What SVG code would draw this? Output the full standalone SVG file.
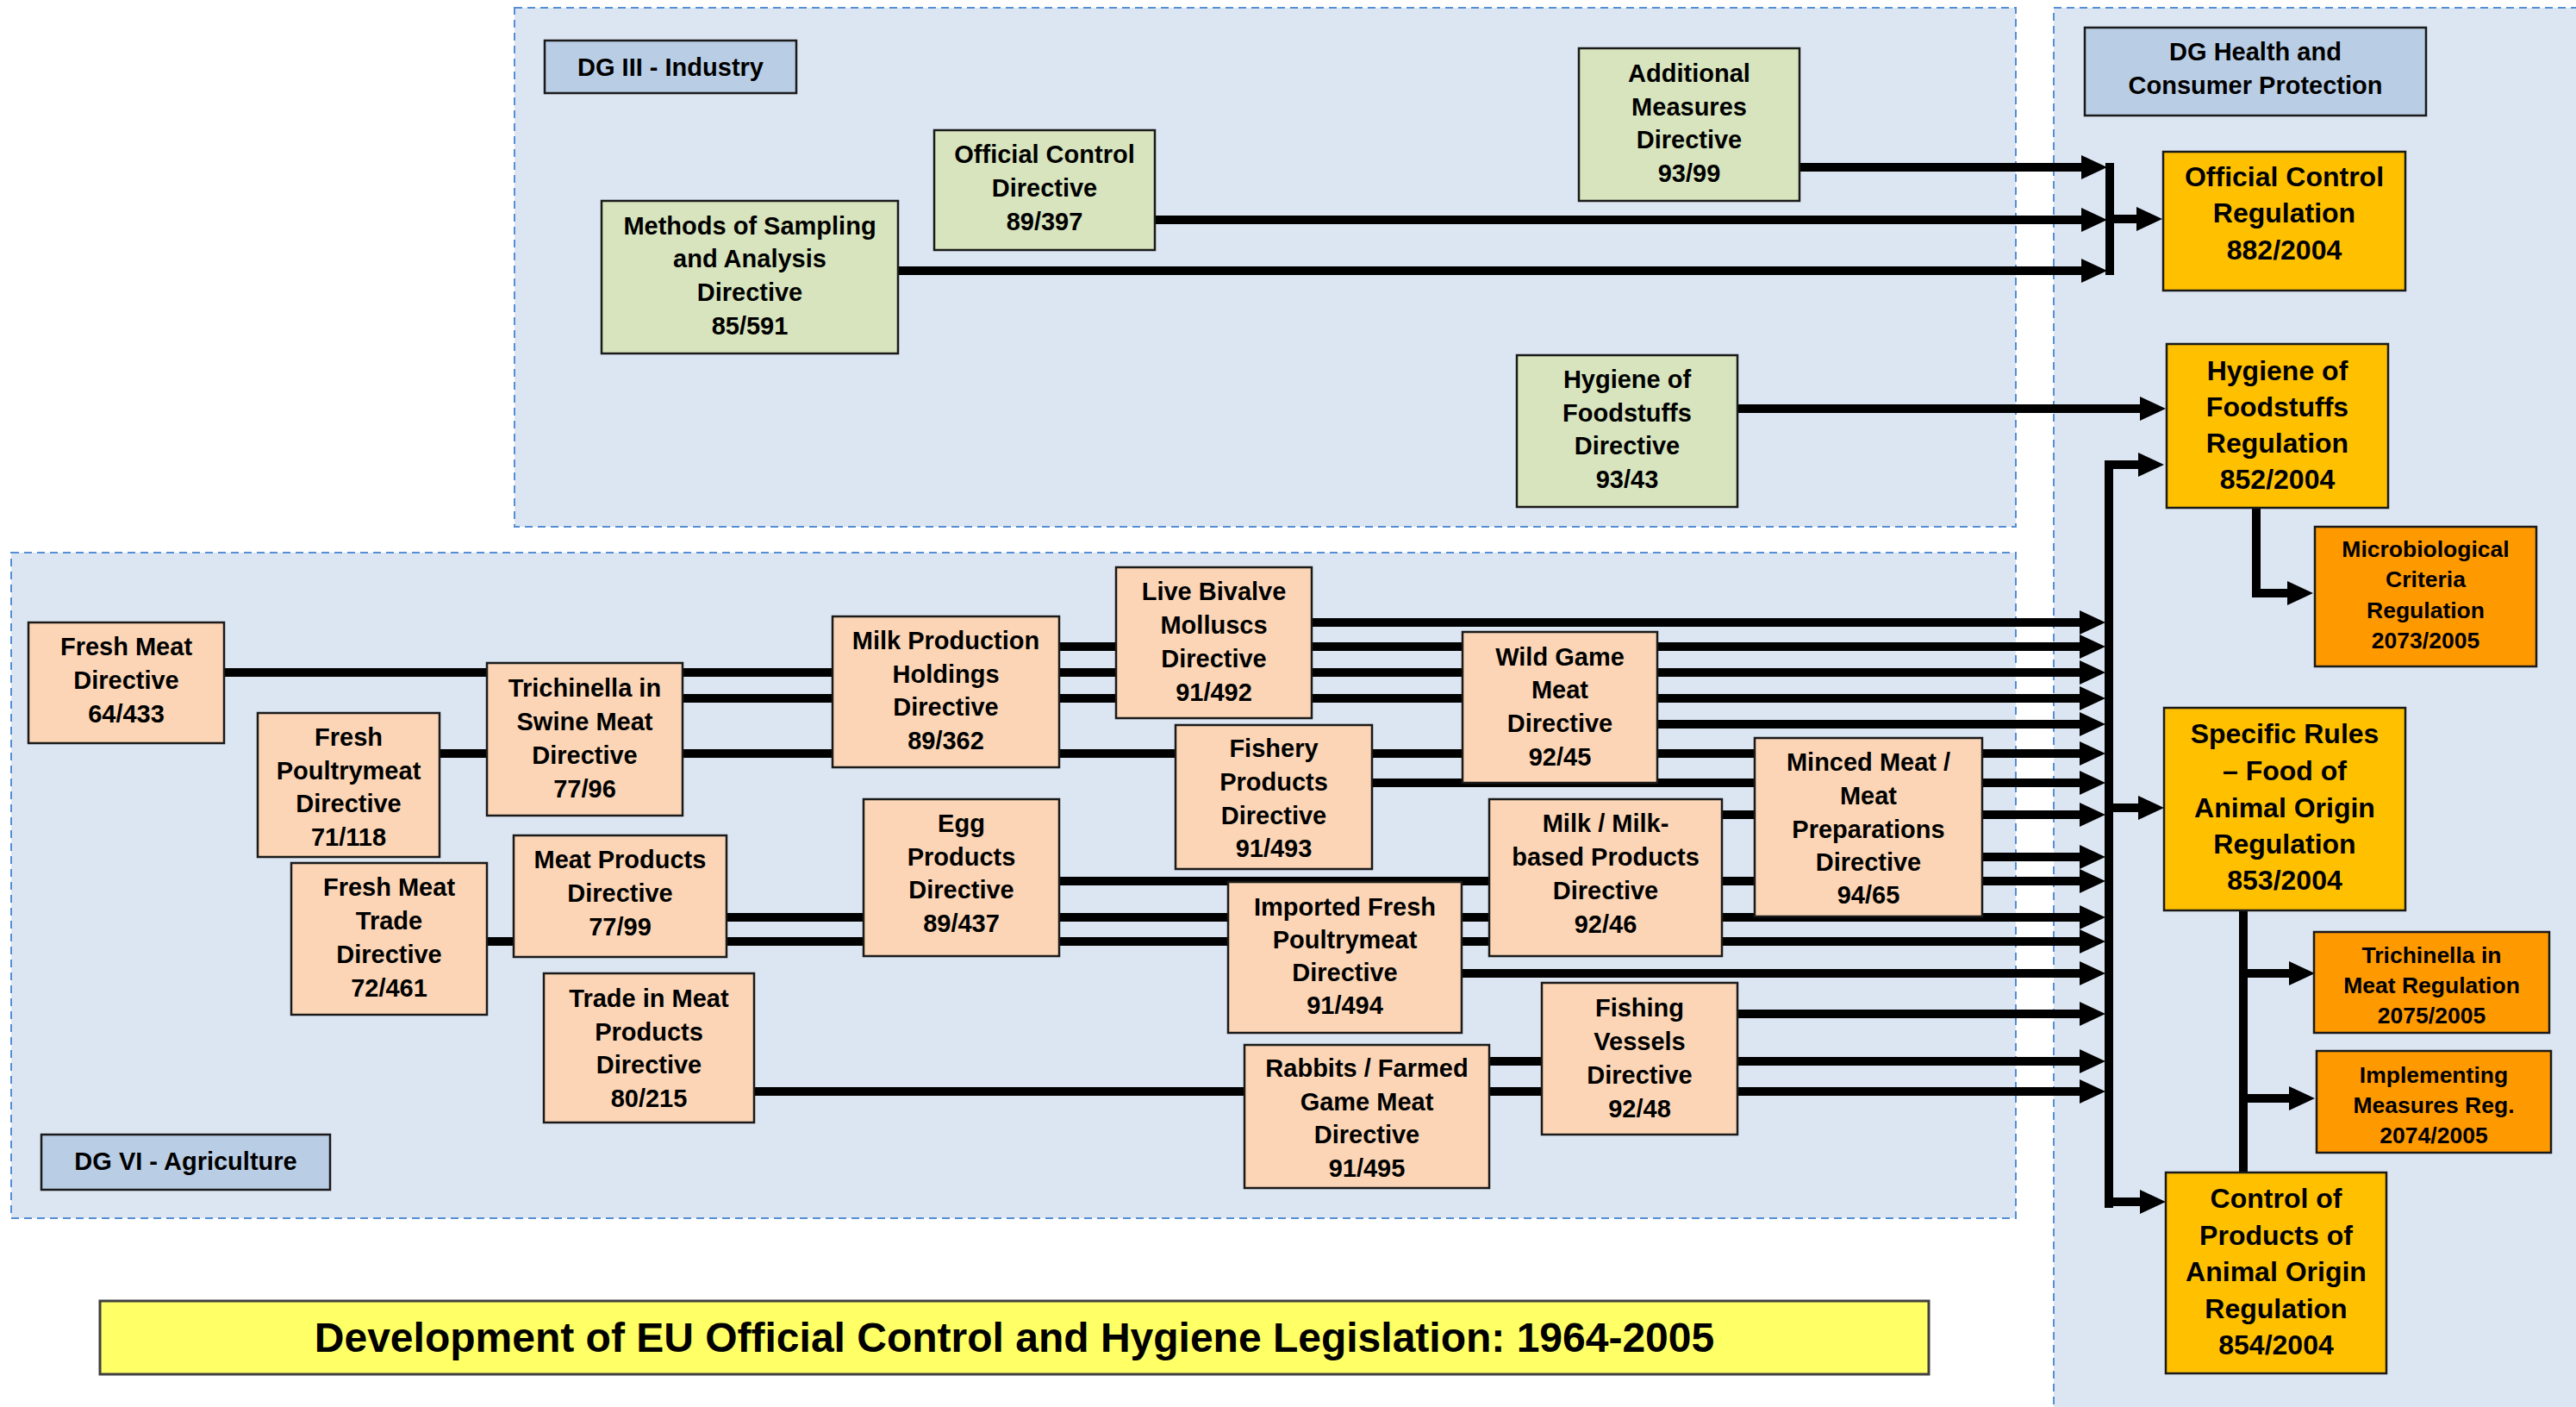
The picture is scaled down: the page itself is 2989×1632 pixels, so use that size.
<svg xmlns="http://www.w3.org/2000/svg" width="2989" height="1632" viewBox="0 0 2989 1632">
<defs>
<style>
.cont{fill:#DCE6F2;stroke:#558ED5;stroke-width:2;stroke-dasharray:9 6}
.lab{fill:#B9CDE5;stroke:#1a1a1a;stroke-width:2.5}
.grn{fill:#D7E4BD;stroke:#1a1a1a;stroke-width:2.5}
.org{fill:#FBD5B5;stroke:#1a1a1a;stroke-width:2.5}
.reg{fill:#FFC000;stroke:#1a1a1a;stroke-width:2.5}
.sub{fill:#FF9900;stroke:#1a1a1a;stroke-width:2.5}
.ttl{fill:#FFFF66;stroke:#404040;stroke-width:3}
text{font-family:"Liberation Sans",Arial,sans-serif;font-weight:bold;text-anchor:middle;dominant-baseline:central;fill:#000}
.s29{font-size:29px}
.s32{font-size:32px}
.s26{font-size:26.5px}
.s48{font-size:48px}
.ln{stroke:#000;stroke-width:10;fill:none}
.ar{marker-end:url(#ah)}
</style>
<marker id="ah" markerUnits="userSpaceOnUse" markerWidth="30" markerHeight="28" refX="0" refY="14" orient="auto" viewBox="0 0 30 28"><path d="M0,0 L30,14 L0,28 z" fill="#000"/></marker>
</defs>
<rect width="2989" height="1632" fill="#fff"/>
<g id="containers">
<rect class="cont" x="597" y="9" width="1742" height="602"/>
<rect class="cont" x="13" y="641" width="2326" height="772"/>
<rect class="cont" x="2383" y="9" width="700" height="1700"/>
</g>
<g id="label-dg3"><rect class="lab" x="632" y="47" width="292" height="61"/><text class="s29" x="778" y="77.5">DG III - Industry</text></g>
<g id="label-dg6"><rect class="lab" x="48" y="1316" width="335" height="64"/><text class="s29" x="215.5" y="1347">DG VI - Agriculture</text></g>
<g id="label-health"><rect class="lab" x="2419" y="32" width="396" height="102"/><text class="s29" x="2617" y="60">DG Health and</text><text class="s29" x="2617" y="99">Consumer Protection</text></g>
<g id="connectors">
<line class="ln ar" x1="2088" y1="194" x2="2415" y2="194"/>
<line class="ln ar" x1="1340" y1="255" x2="2415" y2="255"/>
<line class="ln ar" x1="1042" y1="314" x2="2415" y2="314"/>
<line class="ln" x1="2448" y1="189" x2="2448" y2="319"/>
<line class="ln ar" x1="2448" y1="254" x2="2479" y2="254"/>
<line class="ln ar" x1="2016" y1="474" x2="2483" y2="474"/>
<line class="ln" x1="2447" y1="534" x2="2447" y2="1401"/>
<line class="ln ar" x1="2442" y1="539" x2="2481" y2="539"/>
<line class="ln ar" x1="2447" y1="937" x2="2481" y2="937"/>
<line class="ln ar" x1="2442" y1="1394" x2="2483" y2="1394"/>
<polyline class="ln ar" points="2618,589 2618,688 2654,688"/>
<line class="ln" x1="2603" y1="1056" x2="2603" y2="1360"/>
<line class="ln ar" x1="2603" y1="1129" x2="2656" y2="1129"/>
<line class="ln ar" x1="2603" y1="1274" x2="2656" y2="1274"/>
<line class="ln ar" x1="1522" y1="722" x2="2413" y2="722"/>
<line class="ln ar" x1="1229" y1="750" x2="2413" y2="750"/>
<line class="ln ar" x1="260" y1="780" x2="2413" y2="780"/>
<line class="ln ar" x1="792" y1="810" x2="2413" y2="810"/>
<line class="ln ar" x1="1923" y1="840" x2="2413" y2="840"/>
<line class="ln ar" x1="510" y1="874" x2="2413" y2="874"/>
<line class="ln ar" x1="1592" y1="908" x2="2413" y2="908"/>
<line class="ln ar" x1="1998" y1="945" x2="2413" y2="945"/>
<line class="ln ar" x1="2300" y1="994" x2="2413" y2="994"/>
<line class="ln ar" x1="1229" y1="1022" x2="2413" y2="1022"/>
<line class="ln ar" x1="843" y1="1064" x2="2413" y2="1064"/>
<line class="ln ar" x1="565" y1="1092" x2="2413" y2="1092"/>
<line class="ln ar" x1="1696" y1="1129" x2="2413" y2="1129"/>
<line class="ln ar" x1="2016" y1="1176" x2="2413" y2="1176"/>
<line class="ln ar" x1="1728" y1="1231" x2="2413" y2="1231"/>
<line class="ln ar" x1="875" y1="1266" x2="2413" y2="1266"/>
</g>
<g id="methods"><rect class="grn" x="698" y="233" width="344" height="177"/><text class="s29" x="870" y="262">Methods of Sampling</text><text class="s29" x="870" y="300">and Analysis</text><text class="s29" x="870" y="339">Directive</text><text class="s29" x="870" y="378">85/591</text></g>
<g id="ocd"><rect class="grn" x="1084" y="151" width="256" height="139"/><text class="s29" x="1212" y="179">Official Control</text><text class="s29" x="1212" y="218">Directive</text><text class="s29" x="1212" y="257">89/397</text></g>
<g id="additional"><rect class="grn" x="1832" y="56" width="256" height="177"/><text class="s29" x="1960" y="85">Additional</text><text class="s29" x="1960" y="124">Measures</text><text class="s29" x="1960" y="162">Directive</text><text class="s29" x="1960" y="201">93/99</text></g>
<g id="hygiene-dir"><rect class="grn" x="1760" y="412" width="256" height="176"/><text class="s29" x="1888" y="440">Hygiene of</text><text class="s29" x="1888" y="479">Foodstuffs</text><text class="s29" x="1888" y="517">Directive</text><text class="s29" x="1888" y="556">93/43</text></g>
<g id="fresh-meat"><rect class="org" x="33" y="722" width="227" height="140"/><text class="s29" x="146.5" y="750">Fresh Meat</text><text class="s29" x="146.5" y="789">Directive</text><text class="s29" x="146.5" y="828">64/433</text></g>
<g id="fresh-poultry"><rect class="org" x="299" y="827" width="211" height="167"/><text class="s29" x="404.5" y="855">Fresh</text><text class="s29" x="404.5" y="894">Poultrymeat</text><text class="s29" x="404.5" y="932">Directive</text><text class="s29" x="404.5" y="971">71/118</text></g>
<g id="trichinella-swine"><rect class="org" x="565" y="769" width="227" height="177"/><text class="s29" x="678.5" y="798">Trichinella in</text><text class="s29" x="678.5" y="837">Swine Meat</text><text class="s29" x="678.5" y="876">Directive</text><text class="s29" x="678.5" y="915">77/96</text></g>
<g id="fresh-meat-trade"><rect class="org" x="338" y="1001" width="227" height="176"/><text class="s29" x="451.5" y="1029">Fresh Meat</text><text class="s29" x="451.5" y="1068">Trade</text><text class="s29" x="451.5" y="1107">Directive</text><text class="s29" x="451.5" y="1146">72/461</text></g>
<g id="meat-products"><rect class="org" x="596" y="969" width="247" height="141"/><text class="s29" x="719.5" y="997">Meat Products</text><text class="s29" x="719.5" y="1036">Directive</text><text class="s29" x="719.5" y="1075">77/99</text></g>
<g id="trade-meat-products"><rect class="org" x="631" y="1129" width="244" height="173"/><text class="s29" x="753" y="1158">Trade in Meat</text><text class="s29" x="753" y="1197">Products</text><text class="s29" x="753" y="1235">Directive</text><text class="s29" x="753" y="1274">80/215</text></g>
<g id="milk-production"><rect class="org" x="966" y="715" width="263" height="175"/><text class="s29" x="1097.5" y="743">Milk Production</text><text class="s29" x="1097.5" y="782">Holdings</text><text class="s29" x="1097.5" y="820">Directive</text><text class="s29" x="1097.5" y="859">89/362</text></g>
<g id="egg-products"><rect class="org" x="1002" y="927" width="227" height="182"/><text class="s29" x="1115.5" y="955">Egg</text><text class="s29" x="1115.5" y="994">Products</text><text class="s29" x="1115.5" y="1032">Directive</text><text class="s29" x="1115.5" y="1071">89/437</text></g>
<g id="live-bivalve"><rect class="org" x="1295" y="658" width="227" height="175"/><text class="s29" x="1408.5" y="686">Live Bivalve</text><text class="s29" x="1408.5" y="725">Molluscs</text><text class="s29" x="1408.5" y="764">Directive</text><text class="s29" x="1408.5" y="803">91/492</text></g>
<g id="fishery"><rect class="org" x="1364" y="841" width="228" height="167"/><text class="s29" x="1478" y="868">Fishery</text><text class="s29" x="1478" y="907">Products</text><text class="s29" x="1478" y="946">Directive</text><text class="s29" x="1478" y="984">91/493</text></g>
<g id="imported-poultry"><rect class="org" x="1425" y="1023" width="271" height="175"/><text class="s29" x="1560.5" y="1052">Imported Fresh</text><text class="s29" x="1560.5" y="1090">Poultrymeat</text><text class="s29" x="1560.5" y="1128">Directive</text><text class="s29" x="1560.5" y="1166">91/494</text></g>
<g id="rabbits"><rect class="org" x="1444" y="1212" width="284" height="166"/><text class="s29" x="1586" y="1239">Rabbits / Farmed</text><text class="s29" x="1586" y="1278">Game Meat</text><text class="s29" x="1586" y="1316">Directive</text><text class="s29" x="1586" y="1355">91/495</text></g>
<g id="wild-game"><rect class="org" x="1697" y="733" width="226" height="175"/><text class="s29" x="1810" y="762">Wild Game</text><text class="s29" x="1810" y="800">Meat</text><text class="s29" x="1810" y="839">Directive</text><text class="s29" x="1810" y="878">92/45</text></g>
<g id="milk-based"><rect class="org" x="1728" y="927" width="270" height="182"/><text class="s29" x="1863" y="955">Milk / Milk-</text><text class="s29" x="1863" y="994">based Products</text><text class="s29" x="1863" y="1033">Directive</text><text class="s29" x="1863" y="1072">92/46</text></g>
<g id="fishing-vessels"><rect class="org" x="1789" y="1140" width="227" height="176"/><text class="s29" x="1902.5" y="1169">Fishing</text><text class="s29" x="1902.5" y="1208">Vessels</text><text class="s29" x="1902.5" y="1247">Directive</text><text class="s29" x="1902.5" y="1286">92/48</text></g>
<g id="minced-meat"><rect class="org" x="2036" y="856" width="264" height="207"/><text class="s29" x="2168" y="884">Minced Meat /</text><text class="s29" x="2168" y="923">Meat</text><text class="s29" x="2168" y="962">Preparations</text><text class="s29" x="2168" y="1000">Directive</text><text class="s29" x="2168" y="1038">94/65</text></g>
<g id="ocr"><rect class="reg" x="2510" y="176" width="281" height="161"/><text class="s32" x="2650.5" y="205">Official Control</text><text class="s32" x="2650.5" y="247">Regulation</text><text class="s32" x="2650.5" y="290">882/2004</text></g>
<g id="hygiene-reg"><rect class="reg" x="2514" y="399" width="257" height="190"/><text class="s32" x="2642.5" y="430">Hygiene of</text><text class="s32" x="2642.5" y="472">Foodstuffs</text><text class="s32" x="2642.5" y="514">Regulation</text><text class="s32" x="2642.5" y="556">852/2004</text></g>
<g id="microbio"><rect class="sub" x="2686" y="611" width="257" height="162"/><text class="s26" x="2814.5" y="637">Microbiological</text><text class="s26" x="2814.5" y="672">Criteria</text><text class="s26" x="2814.5" y="708">Regulation</text><text class="s26" x="2814.5" y="743">2073/2005</text></g>
<g id="specific-rules"><rect class="reg" x="2511" y="821" width="280" height="235"/><text class="s32" x="2651" y="851">Specific Rules</text><text class="s32" x="2651" y="894">– Food of</text><text class="s32" x="2651" y="937">Animal Origin</text><text class="s32" x="2651" y="979">Regulation</text><text class="s32" x="2651" y="1021">853/2004</text></g>
<g id="trichinella-reg"><rect class="sub" x="2685" y="1081" width="273" height="117"/><text class="s26" x="2821.5" y="1108">Trichinella in</text><text class="s26" x="2821.5" y="1143">Meat Regulation</text><text class="s26" x="2821.5" y="1178">2075/2005</text></g>
<g id="implementing"><rect class="sub" x="2688" y="1219" width="272" height="118"/><text class="s26" x="2824" y="1247">Implementing</text><text class="s26" x="2824" y="1282">Measures Reg.</text><text class="s26" x="2824" y="1317">2074/2005</text></g>
<g id="control-products"><rect class="reg" x="2513" y="1360" width="256" height="233"/><text class="s32" x="2641" y="1390">Control of</text><text class="s32" x="2641" y="1433">Products of</text><text class="s32" x="2641" y="1475">Animal Origin</text><text class="s32" x="2641" y="1518">Regulation</text><text class="s32" x="2641" y="1560">854/2004</text></g>
<g id="title"><rect class="ttl" x="116" y="1509" width="2122" height="85"/><text class="s48" x="1177" y="1551">Development of EU Official Control and Hygiene Legislation: 1964-2005</text></g>
</svg>
